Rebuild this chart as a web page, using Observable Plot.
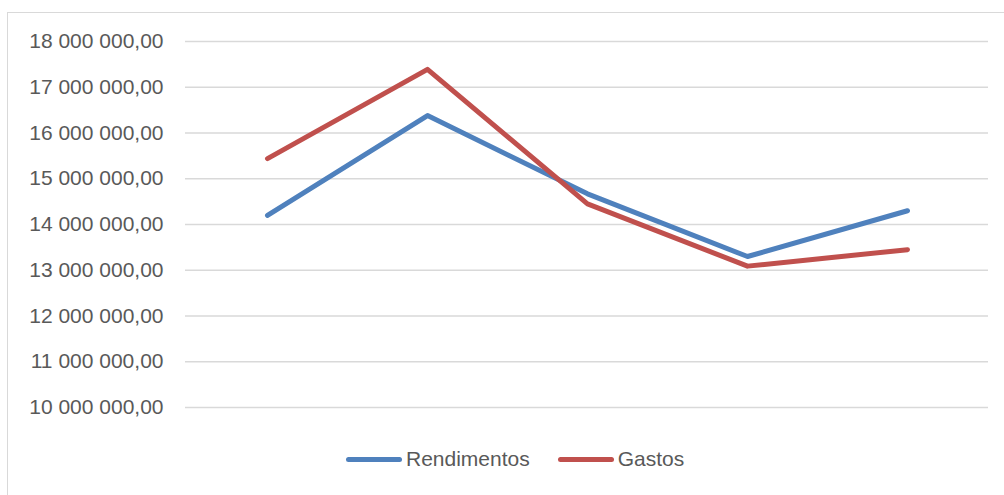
<!DOCTYPE html>
<html>
<head>
<meta charset="utf-8">
<script src="https://cdn.jsdelivr.net/npm/d3@7"></script>
<script src="https://cdn.jsdelivr.net/npm/@observablehq/plot@0.6"></script>
<style>
  html, body { margin: 0; padding: 0; background: #fff; overflow: hidden; }
  body { width: 1004px; height: 495px; position: relative; font-family: "Liberation Sans", Arial, sans-serif; }
  #frame { position: absolute; left: 7px; top: 12px; width: 1100px; height: 600px; border: 1px solid #d9d9d9; box-sizing: border-box; }
  #chart { position: absolute; left: 0; top: 0; }
  #legend { position: absolute; left: 346px; top: 447px; display: flex; align-items: center; font-size: 21px; color: #595959; white-space: nowrap; }
  .sw { display: inline-block; width: 56px; height: 5px; border-radius: 3px; margin-right: 4px; }
  .item { display: flex; align-items: center; margin-right: 28px; }
</style>
</head>
<body>
<div id="frame"></div>
<div id="chart"></div>
<div id="legend"></div>
<script>
const categories = ["1", "2", "3", "4", "5"];
const rendimentos = [14200000, 16380000, 14670000, 13300000, 14300000];
const gastos = [15440000, 17390000, 14450000, 13090000, 13450000];
const seriesNames = ["Rendimentos", "Gastos"];
const seriesColors = ["#4f81bd", "#c0504d"];
const yTicks = [10000000, 11000000, 12000000, 13000000, 14000000, 15000000, 16000000, 17000000, 18000000];

const rows = [];
categories.forEach((c, i) => {
  rows.push({cat: c, value: rendimentos[i], serie: seriesNames[0]});
  rows.push({cat: c, value: gastos[i], serie: seriesNames[1]});
});

const fmt = d => d3.format(",.2f")(d).replace(/,/g, " ").replace(".", ",");

const chart = Plot.plot({
  width: 1004,
  height: 440,
  marginLeft: 185,
  marginRight: 16,
  marginTop: 41,
  marginBottom: 33,
  style: {fontFamily: "'Liberation Sans', Arial, sans-serif", fontSize: "21px", color: "#595959", background: "transparent", overflow: "visible"},
  x: {type: "point", domain: categories, padding: 0.5, axis: null},
  y: {domain: [10000000, 18000000], ticks: yTicks, tickFormat: fmt, label: null},
  color: {domain: seriesNames, range: seriesColors},
  marks: [
    Plot.ruleY(yTicks, {stroke: "#d9d9d9", strokeWidth: 1.5}),
    Plot.axisY({ticks: yTicks, tickFormat: fmt, tickSize: 0, tickPadding: 22, label: null, fill: "#595959", fontSize: 21}),
    Plot.line(rows, {x: "cat", y: "value", z: "serie", stroke: "serie", strokeWidth: 5, strokeLinecap: "round", strokeLinejoin: "round"})
  ]
});
document.getElementById("chart").appendChild(chart);

const legend = document.getElementById("legend");
seriesNames.forEach((n, i) => {
  const item = document.createElement("div");
  item.className = "item";
  const sw = document.createElement("span");
  sw.className = "sw";
  sw.style.background = seriesColors[i];
  const t = document.createElement("span");
  t.textContent = n;
  item.appendChild(sw);
  item.appendChild(t);
  legend.appendChild(item);
});
</script>
</body>
</html>
